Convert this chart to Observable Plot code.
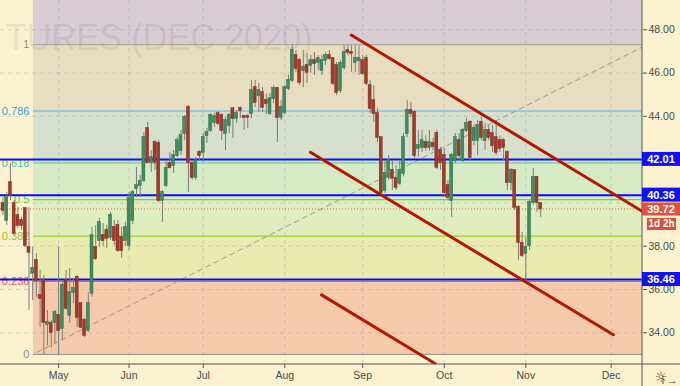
<!DOCTYPE html>
<html><head><meta charset="utf-8">
<script src="https://cdn.jsdelivr.net/npm/d3@7"></script>
<script src="https://cdn.jsdelivr.net/npm/@observablehq/plot@0.6"></script>
<style>
html,body{margin:0;padding:0;background:#fdf2d0;}
#chart svg{display:block;}
</style>
</head><body><div id="chart"></div>
<script>
// ---- data (daily candles, bar index order) ----
const opens = [39.97,39.19,40.94,39.97,39.42,39.19,39.74,37.94,36.75,37.34,
35.72,36.42,34.39,34.43,34.48,34.80,34.20,36.42,34.80,35.86,
36.56,35.35,34.57,34.11,35.83,37.94,38.26,38.49,38.73,38.40,
38.87,38.96,38.40,38.26,38.03,39.19,40.67,40.80,41.04,43.44,
41.87,42.79,42.75,40.11,40.80,41.82,41.73,42.19,42.42,43.21,
44.41,41.82,41.18,42.33,42.33,43.11,43.35,43.72,44.13,44.04,
43.21,43.58,44.36,43.90,44.36,43.99,43.99,44.13,45.33,44.96,
45.10,44.73,44.13,44.82,45.29,43.95,44.18,45.29,45.66,46.81,
46.58,46.12,46.35,46.35,46.58,46.49,46.12,46.58,46.81,46.67,
46.35,45.19,46.26,47.04,46.95,46.49,46.58,46.58,46.67,45.42,
44.73,44.13,43.02,40.57,41.18,41.50,41.13,40.90,41.36,43.21,
44.27,44.18,42.51,42.56,42.79,42.56,42.75,43.21,42.42,42.19,
40.80,40.11,41.96,42.88,41.96,43.35,43.72,42.88,42.88,43.72,
42.88,43.35,43.21,43.02,42.88,42.88,42.33,40.94,41.50,39.79,
38.13,37.66,38.03,40.02,41.18,39.97];
const highs = [40.25,40.48,41.82,40.11,39.79,39.33,39.79,39.79,37.94,37.66,
36.88,36.65,35.03,34.57,35.03,37.94,36.33,36.88,36.97,36.51,
36.65,35.40,34.66,35.86,38.87,38.96,39.28,39.05,38.96,39.56,
39.19,39.19,38.87,39.10,40.48,40.57,41.64,41.27,43.25,43.72,
42.42,42.88,42.88,40.57,41.96,42.33,42.42,43.02,43.35,44.04,
44.50,41.96,42.10,42.42,43.21,43.44,44.13,44.13,44.22,44.13,
43.95,44.13,44.36,44.27,44.45,44.04,44.08,45.66,45.66,45.52,
45.33,45.03,45.06,45.42,45.33,44.73,45.42,45.89,47.32,47.04,
46.67,47.04,46.90,46.81,46.95,46.81,46.81,46.95,47.04,46.72,
46.49,46.58,47.28,47.28,47.28,47.28,47.28,46.81,46.81,45.66,
45.42,44.36,43.02,41.96,42.19,41.96,41.73,41.96,43.21,44.73,
44.64,44.27,43.35,43.35,43.10,43.35,43.00,43.35,42.56,42.51,
41.04,42.28,43.21,43.21,43.44,43.90,43.81,43.58,43.81,43.95,
43.67,43.58,43.58,43.81,43.10,42.98,42.42,41.59,41.50,39.88,
38.63,38.40,40.11,41.59,41.18,40.02];
const lows = [39.42,38.96,40.11,38.49,38.82,38.73,37.94,35.03,35.49,35.63,
34.25,33.00,33.40,33.30,33.50,33.00,33.65,35.03,34.43,35.35,
34.25,34.20,33.78,34.02,35.63,37.34,37.94,37.97,37.90,38.26,
38.03,37.71,37.43,37.97,37.80,39.00,40.25,40.25,40.94,41.82,
41.41,41.50,40.02,39.10,40.71,41.59,41.36,42.10,42.19,42.88,
40.48,41.04,41.04,41.96,41.87,42.75,43.25,43.49,43.58,42.88,
42.42,43.21,42.98,43.67,43.90,43.35,43.44,43.90,44.41,44.18,
44.18,44.08,44.04,44.59,42.79,43.81,44.08,45.19,45.56,46.03,
45.42,45.33,45.52,45.98,45.89,46.12,45.89,46.35,46.58,45.42,
44.96,45.06,46.12,46.81,46.03,46.03,45.89,45.89,45.42,44.13,
43.72,42.79,40.34,40.43,41.04,40.57,40.57,40.80,41.20,43.02,
43.95,42.05,42.10,42.33,42.40,42.40,42.40,41.55,41.50,40.25,
40.11,39.33,41.82,41.96,41.87,43.25,41.96,42.65,42.19,42.88,
42.42,42.88,42.33,42.19,42.33,41.96,40.57,40.57,39.65,37.34,
37.48,36.42,37.80,39.90,39.56,39.33];
const closes = [39.65,40.25,40.34,38.59,38.96,38.96,38.03,37.71,36.97,36.42,
35.59,34.48,34.48,34.02,34.94,34.10,36.19,35.13,35.86,36.05,
34.71,34.25,33.88,35.35,38.49,37.43,39.10,38.26,38.36,39.42,
38.26,37.80,37.80,38.87,40.20,40.48,40.80,40.99,43.02,41.87,
42.10,41.87,40.11,40.48,41.59,41.62,42.19,42.88,43.11,43.95,
41.87,41.18,41.96,42.19,43.02,43.25,44.04,43.99,43.67,43.35,
43.81,44.04,43.90,44.13,44.27,43.95,43.95,45.19,44.64,45.19,
44.41,44.59,44.82,45.29,43.95,44.41,45.33,45.66,47.04,46.21,
45.56,46.26,46.03,46.58,46.44,46.67,46.58,46.81,46.67,45.52,
45.10,46.44,46.95,46.95,46.90,46.67,46.67,45.98,45.52,44.36,
44.13,43.02,40.48,41.36,41.96,41.13,40.71,41.50,43.02,44.27,
44.13,42.19,42.65,42.88,42.56,42.79,42.60,41.64,41.87,40.48,
40.25,42.19,43.02,42.19,43.35,43.67,42.10,43.44,43.58,43.02,
43.35,43.02,42.65,42.33,42.51,42.56,40.94,41.50,39.79,38.17,
37.57,37.94,40.02,41.18,40.02,39.72];

const monthTicks  = [15, 34, 54, 76, 97, 119, 141, 164];   // bar index of month start
const monthLabels = ["May","Jun","Jul","Aug","Sep","Oct","Nov","Dec"];
const gridPrices  = [34, 36, 38, 40, 42, 44, 46, 48];
const priceTicks  = [34, 36, 38, 44, 46, 48];              // 40.00 / 42.00 are covered by the level boxes

const fibLow = 33.00, fibHigh = 47.31, fibStart = 8.2;
const fibLevels = [0, 0.236, 0.382, 0.5, 0.618, 0.786, 1, 1.618];
const fibLabels = ["0", "0.236", "0.382", "0.5", "0.618", "0.786", "1", "1.618"];

const levelLines = [42.01, 40.36, 36.46];
const lastPrice = 39.72;
const countdown = "1d 2h";
const watermark = "TURES (DEC 2020)";

// trend lines: [barIndex, price] endpoints
const trendA = [[93.9, 47.76], [172.5, 39.60]];
const trendB = [[82.9, 42.34], [164.6, 33.91]];
const trendC = [[85.9, 35.75], [116.6, 32.57]];
const fibDiag = [[9.2, 33.10], [172.4, 47.20]];

// ---- styles ----
const bandFills   = ["#f5caaa","#eaebb1","#dfedbf","#d6eac6","#d6e0cc","#e8ddc0","#d7cdd3"];
const fibLineCol  = ["#9a9a9a","#f05a5a","#9ccc2c","#6ad848","#50c8a8","#5aaee0","#9a9a9a","#9a9a9a"];
const fibTextCol  = ["#8a8a8a","#ef5350","#9cbf1a","#4cd137","#3ec9a7","#3d9dd8","#8a8a8a","#8a8a8a"];
const upCol = "#3f8c60", upEdge = "#2f6f4a", dnCol = "#a23a2c", dnEdge = "#7e2c22";

const xDomain = [-0.674, 172.46];
const yDomain = [32.533, 49.354];
const fibPrice = l => fibLow + l * (fibHigh - fibLow);

const candles = opens.map((o, i) => ({i, o, h: highs[i], l: lows[i], c: closes[i]}));
const bands = fibLevels.slice(0, -1).map((l, k) => ({y1: fibPrice(l), y2: fibPrice(fibLevels[k + 1]), fill: bandFills[k]}));
const fibRows = fibLevels.slice(0, -1).map((l, k) => ({p: fibPrice(l), label: fibLabels[k], line: fibLineCol[k], text: fibTextCol[k]}));
const trendRows = [trendA, trendB, trendC].flatMap((seg, id) => seg.map(([i, p]) => ({id, i, p})));
const diagRows = fibDiag.map(([i, p]) => ({i, p}));

const FONT = "'Liberation Sans', Arial, sans-serif";

const chart = Plot.plot({
  width: 680, height: 386,
  marginTop: 0, marginRight: 38, marginBottom: 22, marginLeft: 0,
  style: {background: "#fdf2d0", fontFamily: FONT, fontSize: "10.5px", color: "#4a4a4a"},
  x: {domain: xDomain, axis: null},
  y: {domain: yDomain, axis: null},
  color: {type: "identity"},
  marks: [
    Plot.rect(bands, {x1: () => fibStart, x2: () => xDomain[1], y1: "y1", y2: "y2", fill: "fill", clip: true}),
    Plot.gridX(monthTicks, {stroke: "#8f93c0", strokeOpacity: 0.35, strokeDasharray: "4,4"}),
    Plot.gridY(gridPrices, {stroke: "#8f93c0", strokeOpacity: 0.35, strokeDasharray: "4,4"}),
    Plot.text([watermark], {frameAnchor: "top-left", dx: 5, dy: 38, textAnchor: "start", lineAnchor: "middle",
      fontSize: 37, fill: "#3a3040", fillOpacity: 0.1}),
    Plot.ruleY(fibRows, {y: "p", x1: () => fibStart, x2: () => xDomain[1], stroke: "line", strokeWidth: 1.2}),
    Plot.text(fibRows, {x: () => fibStart, y: "p", text: "label", fill: "text", textAnchor: "end", dx: -4, fontSize: 11}),
    Plot.line(diagRows, {x: "i", y: "p", stroke: "#9a9a9a", strokeWidth: 1, strokeDasharray: "5,4", clip: true}),
    Plot.ruleY(levelLines, {stroke: "#0d0df2", strokeWidth: 2}),
    Plot.ruleY([lastPrice], {stroke: "#e0604c", strokeWidth: 1, strokeDasharray: "1,2"}),
    Plot.ruleX(candles, {x: "i", y1: "l", y2: "h", stroke: "#7c7c7c", strokeWidth: 1}),
    Plot.rect(candles, {
      x1: d => d.i - 0.4, x2: d => d.i + 0.4,
      y1: d => Math.min(d.o, d.c), y2: d => Math.max(d.o, d.c),
      insetTop: -0.5, insetBottom: -0.5,
      fill: d => d.c >= d.o ? upCol : dnCol,
      stroke: d => d.c >= d.o ? upEdge : dnEdge, strokeWidth: 0.5
    }),
    Plot.line(trendRows, {x: "i", y: "p", z: "id", stroke: "#b01a00", strokeWidth: 3, clip: true}),
    Plot.axisY(priceTicks, {anchor: "right", tickSize: 4, tickPadding: 2, tickFormat: d => d.toFixed(2),
      stroke: "#555", fill: "#4a4a4a", fontSize: 10.5}),
    Plot.axisX(monthTicks, {anchor: "bottom", tickSize: 4, tickPadding: 3,
      tickFormat: d => monthLabels[monthTicks.indexOf(d)], stroke: "#555", fill: "#4a4a4a", fontSize: 10.5})
  ]
});

document.getElementById("chart").appendChild(chart);

// ---- post layout: watermark width, axis frame, price boxes ----
const svg = d3.select(chart);
svg.selectAll("text").filter(function(){ return this.textContent === watermark; })
  .attr("textLength", 307).attr("lengthAdjust", "spacingAndGlyphs");

const ys = chart.scale("y"), xs = chart.scale("x");
const xRight = xs.apply(xDomain[1]);
const yBottom = ys.apply(yDomain[0]);
const g = svg.append("g");
g.append("line").attr("x1", 0).attr("x2", 680).attr("y1", yBottom).attr("y2", yBottom)
  .attr("stroke", "#555").attr("stroke-width", 1);
g.append("line").attr("x1", xRight).attr("x2", xRight).attr("y1", 0).attr("y2", 386)
  .attr("stroke", "#555").attr("stroke-width", 1);

function priceBox(v, label, fill, offsetY = 0, x0 = xRight, w = 680 - xRight, h = 14, fs = 11) {
  const cy = ys.apply(v) + offsetY;
  g.append("rect").attr("x", x0).attr("y", cy - h / 2).attr("width", w).attr("height", h).attr("fill", fill);
  g.append("text").attr("x", x0 + w / 2).attr("y", cy).attr("text-anchor", "middle")
    .attr("dominant-baseline", "central").attr("fill", "#fff").attr("font-weight", "bold")
    .attr("font-size", fs).attr("font-family", FONT).text(label);
}
levelLines.forEach(v => priceBox(v, v.toFixed(2), "#1212ee"));
priceBox(lastPrice, lastPrice.toFixed(2), "#de5440", 0.5, xRight, 680 - xRight, 13, 11);
priceBox(lastPrice, countdown, "#d9503f", 15.5, xRight + 5, 29, 12, 10);

g.append("text").attr("x", 661).attr("y", 377).attr("text-anchor", "middle").attr("dominant-baseline", "central")
  .attr("font-size", 14).attr("fill", "#444").attr("font-family", "'DejaVu Sans', sans-serif").text("\u263C");
</script>
</body></html>
